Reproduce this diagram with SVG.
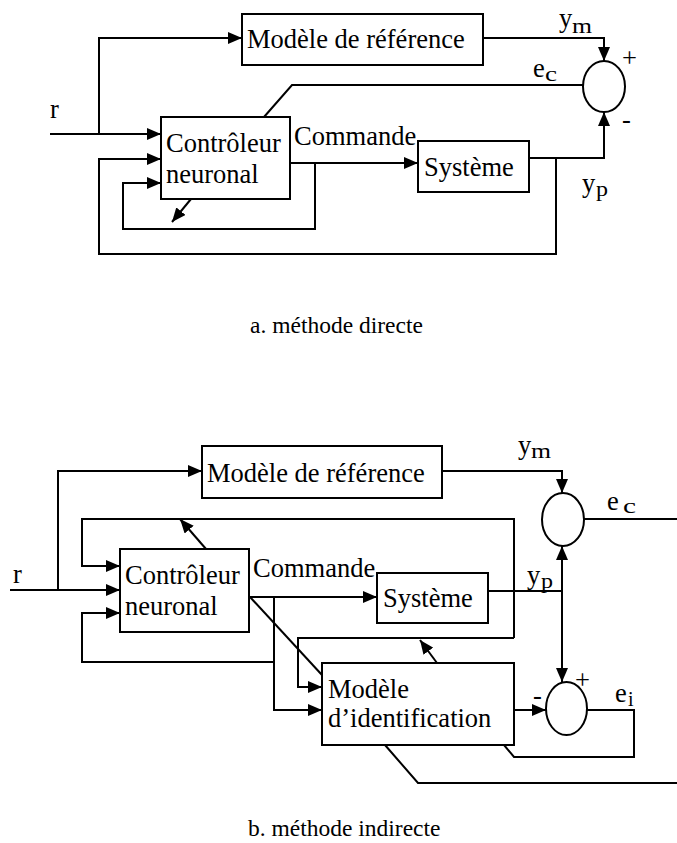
<svg xmlns="http://www.w3.org/2000/svg" width="677" height="843" viewBox="0 0 677 843">
<style>
.ln{fill:none;stroke:#000;stroke-width:2;stroke-linejoin:miter}
.ar{marker-end:url(#ah)}
.bx{fill:#fff;stroke:#000;stroke-width:2}
.t{font-family:"Liberation Serif","Times New Roman",serif;font-size:26.5px;fill:#000}
.s{font-family:"Liberation Serif","Times New Roman",serif;font-size:20px;fill:#000}
.cap{font-family:"Liberation Serif","Times New Roman",serif;font-size:23.5px;fill:#000}
</style>
<defs>
<marker id="ah" markerUnits="userSpaceOnUse" markerWidth="14" markerHeight="12" refX="14" refY="6" orient="auto">
<path d="M0,0 L14,6 L0,12 z" fill="#000"/>
</marker>
</defs>
<rect width="677" height="843" fill="#fff"/>

<!-- ===== a. méthode directe ===== -->
<g id="connectors-a">
<path class="ln ar" d="M50,134 H161"/>
<path class="ln ar" d="M99,134 V38 H242"/>
<path class="ln ar" d="M556,158 V254 H99 V159 H161"/>
<path class="ln ar" d="M315,163 V229 H123 V183 H161"/>
<path class="ln ar" d="M290,163 H418"/>
<path class="ln ar" d="M529,158 H604 V112"/>
<path class="ln ar" d="M483,38 H604 V61"/>
<path class="ln" d="M583,85 H292 L264,117"/>
<path class="ln ar" d="M191,199 L172,222"/>
</g>
<g id="a-ref-model">
<rect class="bx" x="242" y="14" width="241" height="51"/>
<text class="t" x="247" y="48">Modèle de référence</text>
</g>
<g id="a-controller">
<rect class="bx" x="161" y="117" width="129" height="82"/>
<text class="t" x="166" y="152">Contrôleur</text>
<text class="t" x="166" y="183">neuronal</text>
</g>
<g id="a-system">
<rect class="bx" x="418" y="141" width="111" height="51"/>
<text class="t" x="424" y="176">Système</text>
</g>
<g id="a-sum">
<ellipse class="bx" cx="604" cy="86.5" rx="21" ry="25.5"/>
<text class="t" x="622" y="67">+</text>
<text class="t" x="622" y="128">-</text>
</g>
<g id="a-labels">
<text class="t" x="50" y="118">r</text>
<text class="t" x="294" y="145">Commande</text>
<text class="t" x="559" y="27">y</text><text class="s" x="572" y="33" textLength="20" lengthAdjust="spacingAndGlyphs">m</text>
<text class="t" x="533" y="77">e</text><text class="s" x="545" y="81" textLength="12" lengthAdjust="spacingAndGlyphs">c</text>
<text class="t" x="582" y="192">y</text><text class="s" x="596" y="196" textLength="12" lengthAdjust="spacingAndGlyphs">p</text>
</g>
<text class="cap" x="250" y="333">a. méthode directe</text>

<!-- ===== b. méthode indirecte ===== -->
<g id="connectors-b">
<path class="ln ar" d="M10,590 H120"/>
<path class="ln ar" d="M58,590 V471 H202"/>
<path class="ln ar" d="M514,638 V519 H82 V566 H120"/>
<path class="ln ar" d="M514,638 H298 V687 H322"/>
<path class="ln ar" d="M274,597 V662 H82 V613 H120"/>
<path class="ln ar" d="M274,662 V710 H322"/>
<path class="ln ar" d="M249,597 H377"/>
<path class="ln" d="M250,597 L322,675"/>
<path class="ln" d="M488,591 H562"/>
<path class="ln ar" d="M562,591 V546"/>
<path class="ln ar" d="M562,591 V682"/>
<path class="ln ar" d="M442,471 H562 V493"/>
<path class="ln" d="M584,519 H677"/>
<path class="ln ar" d="M514,710 H546"/>
<path class="ln" d="M587,710 H634 V757 H514 L504,745"/>
<path class="ln" d="M385,745 L418,783 H677"/>
<path class="ln ar" d="M437,663 L420,640"/>
<path class="ln ar" d="M206,549 L180,519"/>
</g>
<g id="b-ref-model">
<rect class="bx" x="202" y="446" width="240" height="52"/>
<text class="t" x="207" y="482">Modèle de référence</text>
</g>
<g id="b-controller">
<rect class="bx" x="120" y="549" width="129" height="83"/>
<text class="t" x="125" y="584">Contrôleur</text>
<text class="t" x="125" y="615">neuronal</text>
</g>
<g id="b-system">
<rect class="bx" x="377" y="573" width="111" height="50"/>
<text class="t" x="383" y="607">Système</text>
</g>
<g id="b-ident-model">
<rect class="bx" x="322" y="663" width="192" height="82"/>
<text class="t" x="328" y="698">Modèle</text>
<text class="t" x="328" y="727">d’identification</text>
</g>
<g id="b-sum-c">
<ellipse class="bx" cx="563" cy="519.5" rx="21" ry="26.5"/>
</g>
<g id="b-sum-i">
<ellipse class="bx" cx="566.5" cy="708.5" rx="20.5" ry="26.5"/>
<text class="t" x="575" y="689">+</text>
<text class="t" x="533" y="704">-</text>
</g>
<g id="b-labels">
<text class="t" x="13" y="583">r</text>
<text class="t" x="253" y="577">Commande</text>
<text class="t" x="518" y="454">y</text><text class="s" x="531" y="458" textLength="20" lengthAdjust="spacingAndGlyphs">m</text>
<text class="t" x="607" y="510">e</text><text class="s" x="623" y="513" textLength="13" lengthAdjust="spacingAndGlyphs">c</text>
<text class="t" x="527" y="584">y</text><text class="s" x="541" y="588" textLength="12" lengthAdjust="spacingAndGlyphs">p</text>
<text class="t" x="615" y="702">e</text><text class="s" x="628" y="706">i</text>
</g>
<text class="cap" x="248" y="836">b. méthode indirecte</text>
</svg>
